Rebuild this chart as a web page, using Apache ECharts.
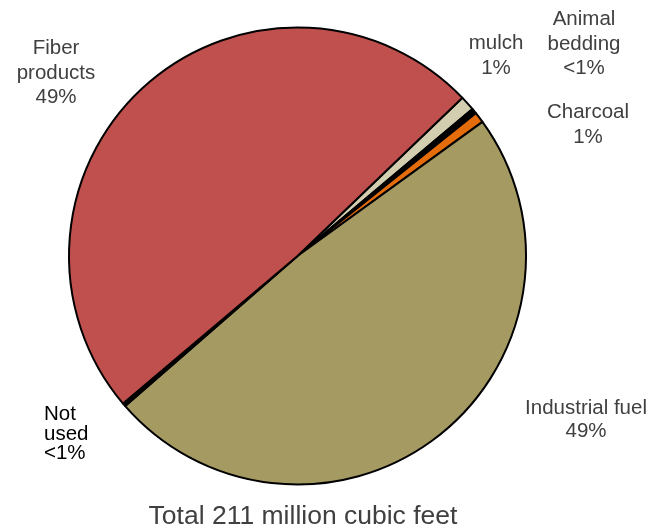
<!DOCTYPE html>
<html><head><meta charset="utf-8">
<script src="https://cdn.jsdelivr.net/npm/echarts@6/dist/echarts.min.js"></script>
<style>html,body{margin:0;padding:0;background:#fff}#c{width:663px;height:527px}</style>
</head><body><div id="c"></div>
<script>
// Data (million cubic feet), clockwise from the top-right
const categories = ['mulch', 'Animal bedding', 'Charcoal', 'Industrial fuel', 'Not used', 'Fiber products'];
const values = [2.2, 0.8, 1.6, 102.5, 0.5, 103.4];
const pctLabels = ['1%', '<1%', '1%', '49%', '<1%', '49%'];
const labelText = ['mulch', 'Animal\nbedding', 'Charcoal', 'Industrial fuel', 'Not\nused', 'Fiber\nproducts'];
const totalLabel = 'Total 211 million cubic feet';

const colors = ['#D3CEAF', '#000000', '#E46C0A', '#A69A63', '#000000', '#C0504D'];
// label anchor positions (layout only)
const labelPos = [
  {x: 496, y: 56, align: 'center'},
  {x: 584, y: 44, align: 'center'},
  {x: 588, y: 125, align: 'center'},
  {x: 586, y: 420, align: 'center'},
  {x: 44, y: 434, align: 'left'},
  {x: 56, y: 73, align: 'center'}
];
const lineH = [24.5, 24.5, 24.5, 23, 19.5, 24.5];

const chart = echarts.init(document.getElementById('c'), null, {renderer: 'canvas'});
const FONT = 'Liberation Sans, Arial, sans-serif';
chart.setOption({
  animation: false,
  title: {
    text: totalLabel, left: 298, top: 498, textAlign: 'center',
    textStyle: {fontFamily: FONT, fontSize: 26.5, fontWeight: 'normal', color: '#404040'}
  },
  series: [{
    type: 'pie',
    center: [297.5, 256],
    radius: 228.5,
    startAngle: 43.8,
    clockwise: true,
    avoidLabelOverlap: false,
    itemStyle: {borderColor: '#000', borderWidth: 2},
    labelLine: {show: false},
    emphasis: {disabled: true},
    label: {
      show: true, position: 'outside',
      fontFamily: FONT, fontSize: 20.5, color: '#404040'
    },
    labelLayout: function (p) {
      const lp = labelPos[p.dataIndex];
      return {x: lp.x, y: lp.y, align: lp.align, verticalAlign: 'middle'};
    },
    data: categories.map((c, i) => ({
      name: c,
      value: values[i],
      itemStyle: {color: colors[i]},
      label: {
        formatter: labelText[i] + '\n' + pctLabels[i],
        lineHeight: lineH[i],
        align: labelPos[i].align,
        color: i === 4 ? '#000' : '#404040'
      }
    }))
  }]
});
</script></body></html>
